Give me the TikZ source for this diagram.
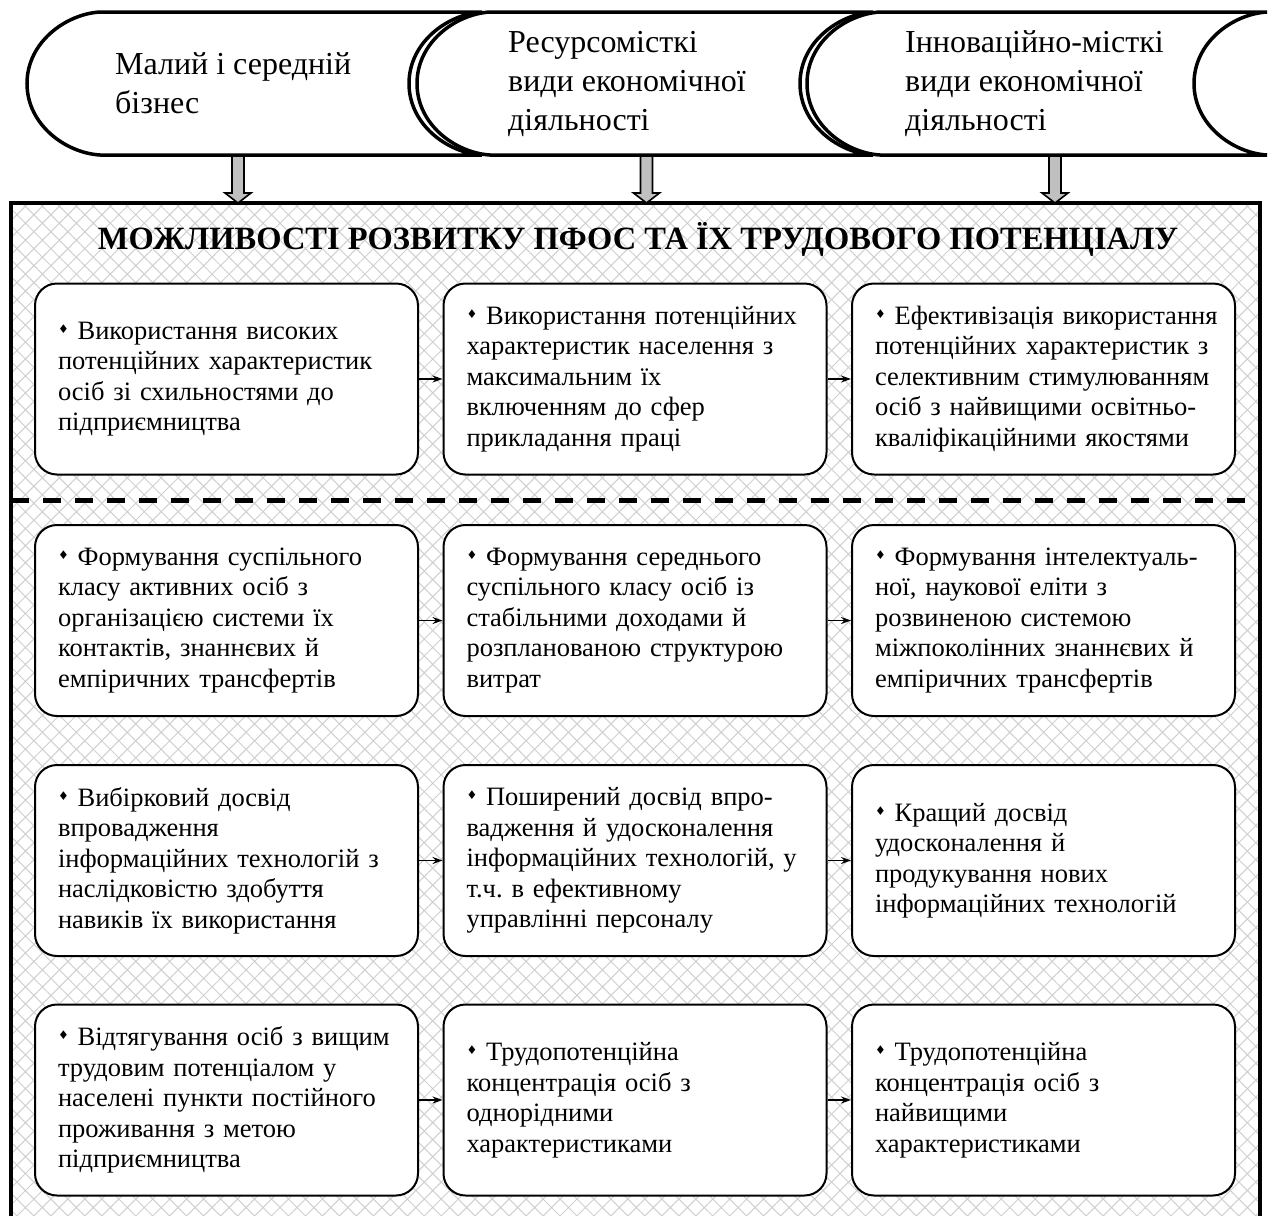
\documentclass[tikz,border=0pt]{standalone}
\usepackage{fontspec}
\setmainfont{Liberation Serif}
\newfontfamily\dejavu{DejaVu Sans}
\usetikzlibrary{arrows.meta,calc,patterns.meta}
\tikzset{>={Stealth[length=10pt,width=7pt]}}
\definecolor{hatchgray}{HTML}{D0D0D0}
\definecolor{arrowgray}{HTML}{C0C0C0}
\newcommand\dmd{\raisebox{6pt}{\dejavu\fontsize{12}{12}\selectfont ♦}}
\frenchspacing

\tikzset{
  banner/.style={draw, line width=3.5pt, fill=white},
  banner text/.style={anchor=west, align=left, inner sep=0pt, font=\fontsize{32}{39}\selectfont},
  bigarrow/.style={draw, line width=1.6pt, fill=arrowgray},
  box/.style={draw, line width=2pt, fill=white, rounded corners=22pt,
    minimum width=383pt, minimum height=191pt, text width=337pt, inner xsep=23pt,
    align=left, font=\fontsize{26.5}{30.5}\selectfont},
  link/.style={->, line width=1.5pt},
}

\begin{document}
\begin{tikzpicture}[x=1pt, y=-1pt]
  \useasboundingbox (0,0) rectangle (1275,1216);
  \clip (0,0) rectangle (1275,1216);

  % banner: straight top and bottom, round nose on the left, hollow on the right
  \newcommand\bannershape[2]{%
    \draw[banner] (#1,12) -- (#2,12)
      .. controls (#2-34,14) and (#2-73,42) .. (#2-73,83.5)
      .. controls (#2-73,125) and (#2-34,153) .. (#2,155) -- (#1,155)
      .. controls (#1-34,153) and (#1-73,125) .. (#1-73,83.5)
      .. controls (#1-73,42) and (#1-34,14) .. (#1,12) -- cycle;}
  % grey block arrow going down from #1 to #2
  \newcommand\blockarrow[2]{%
    \draw[bigarrow] ($(#1)+(-6,0)$) -- ($(#2)+(-6,-10)$) -- ($(#2)+(-13,-10)$)
      -- (#2) -- ($(#2)+(13,-10)$) -- ($(#2)+(6,-10)$) -- ($(#1)+(6,0)$) -- cycle;}

  % frame with cross hatching
  \fill[white] (11,203) rectangle (1260,1240);
  \fill[pattern={Hatch[angle=45,distance=12pt,line width=1pt]}, pattern color=hatchgray]
    (11,203) rectangle (1260,1240);
  \draw[line width=4pt] (11,203) rectangle (1260,1240);
  \draw[line width=5pt, dash pattern=on 18pt off 14pt] (11,500) -- (1260,500);

  \node[font=\bfseries\fontsize{32.5}{32.5}\selectfont, anchor=base] (title) at (638,249)
    {МОЖЛИВОСТІ РОЗВИТКУ ПФОС ТА ЇХ ТРУДОВОГО ПОТЕНЦІАЛУ};

  \coordinate (s1b) at (238,155);  \coordinate (f1) at (238,203);
  \coordinate (s2b) at (646.5,155); \coordinate (f2) at (646.5,203);
  \coordinate (s3b) at (1055,155); \coordinate (f3) at (1055,203);
  \blockarrow{s1b}{f1}
  \blockarrow{s2b}{f2}
  \blockarrow{s3b}{f3}

  \bannershape{100}{482}
  \bannershape{490}{873}
  \bannershape{880}{1267}

  \node[banner text] (s1) at (115,83.5) {Малий і середній\\бізнес};
  \node[banner text] (s2) at (508,83.5) {Ресурсомісткі\\види економічної\\діяльності};
  \node[banner text] (s3) at (905,83.5) {Інноваційно-місткі\\види економічної\\діяльності};

  % first row
  \node[box] (a1) at (226.5,379) {\dmd{} Використання високих\\потенційних характеристик\\осіб зі схильностями до\\підприємництва};
  \node[box] (a2) at (635,379) {\dmd{} Використання потенційних\\характеристик населення з\\максимальним їх\\включенням до сфер\\прикладання праці};
  \node[box] (a3) at (1043.5,379) {\mbox{\dmd{} Ефективізація використання}\\потенційних характеристик з\\селективним стимулюванням\\осіб з найвищими освітньо-\\кваліфікаційними якостями};

  % second row
  \node[box] (b1) at (226.5,620.5) {\dmd{} Формування суспільного\\класу активних осіб з\\організацією системи їх\\контактів, знаннєвих й\\емпіричних трансфертів};
  \node[box] (b2) at (635,620.5) {\dmd{} Формування середнього\\суспільного класу осіб із\\стабільними доходами й\\розпланованою структурою\\витрат};
  \node[box] (b3) at (1043.5,620.5) {\dmd{} Формування інтелектуаль-\\ної, наукової еліти з\\розвиненою системою\\міжпоколінних знаннєвих й\\емпіричних трансфертів};

  % third row
  \node[box] (c1) at (226.5,860.5) {\dmd{} Вибірковий досвід\\впровадження\\інформаційних технологій з\\наслідковістю здобуття\\навиків їх використання};
  \node[box] (c2) at (635,860.5) {\dmd{} Поширений досвід впро-\\вадження й удосконалення\\інформаційних технологій, у\\т.ч. в ефективному\\управлінні персоналу};
  \node[box] (c3) at (1043.5,860.5) {\dmd{} Кращий досвід\\удосконалення й\\продукування нових\\інформаційних технологій};

  % fourth row
  \node[box] (d1) at (226.5,1100) {\dmd{} Відтягування осіб з вищим\\трудовим потенціалом у\\населені пункти постійного\\проживання з метою\\підприємництва};
  \node[box] (d2) at (635,1100) {\dmd{} Трудопотенційна\\концентрація осіб з\\однорідними\\характеристиками};
  \node[box] (d3) at (1043.5,1100) {\dmd{} Трудопотенційна\\концентрація осіб з\\найвищими\\характеристиками};

  \draw[link] (a1) -- (a2);
  \draw[link] (a2) -- (a3);
  \draw[link] (b1) -- (b2);
  \draw[link] (b2) -- (b3);
  \draw[link] (c1) -- (c2);
  \draw[link] (c2) -- (c3);
  \draw[link] (d1) -- (d2);
  \draw[link] (d2) -- (d3);
\end{tikzpicture}
\end{document}
